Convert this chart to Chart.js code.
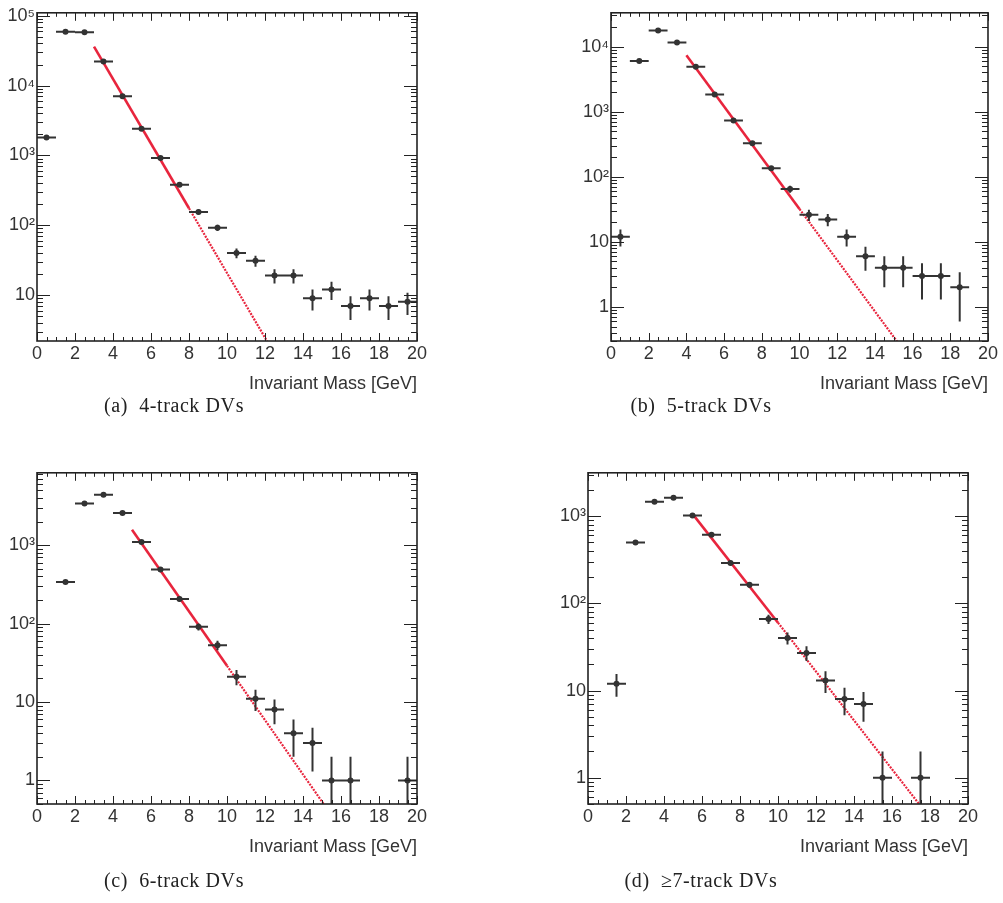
<!DOCTYPE html>
<html>
<head>
<meta charset="utf-8">
<script src="https://cdn.jsdelivr.net/npm/chart.js@4.4.1/dist/chart.umd.min.js"></script>
<style>
  body { margin: 0; background: #fff; width: 1003px; height: 903px; position: relative; overflow: hidden; }
  canvas { position: absolute; }
  .cap { position: absolute; width: 400px; text-align: center; font-family: "Liberation Serif", serif; font-size: 20px; letter-spacing: 0.6px; color: #222; line-height: 24px; }
</style>
</head>
<body>
<canvas id="chartA" width="500" height="400" style="left:0px;top:0px"></canvas>
<canvas id="chartB" width="500" height="400" style="left:500px;top:0px"></canvas>
<canvas id="chartC" width="500" height="420" style="left:0px;top:460px"></canvas>
<canvas id="chartD" width="500" height="420" style="left:500px;top:460px"></canvas>
<div class="cap" style="left:-26px;top:393px">(a)&nbsp;&nbsp;4-track DVs</div>
<div class="cap" style="left:501px;top:393px">(b)&nbsp;&nbsp;5-track DVs</div>
<div class="cap" style="left:-26px;top:868px">(c)&nbsp;&nbsp;6-track DVs</div>
<div class="cap" style="left:501px;top:868px">(d)&nbsp;&nbsp;&ge;7-track DVs</div>
<script>
// bin centres, 1 GeV bins
const massBins = [0.5, 1.5, 2.5, 3.5, 4.5, 5.5, 6.5, 7.5, 8.5, 9.5, 10.5, 11.5, 12.5, 13.5, 14.5, 15.5, 16.5, 17.5, 18.5, 19.5];

// 4-track
const countsA = [1800, 59000, 58000, 22000, 7000, 2400, 920, 380, 155, 92, 40, 31, 19, 19, 9, 12, 7, 9, 7, 8];
const errorsA = [42, 243, 241, 148, 84, 49, 30, 19.5, 12.4, 9.6, 6.3, 5.6, 4.4, 4.4, 3, 3.5, 2.6, 3, 2.6, 2.8];
const fitXA = [3, 8, 12.5];
const fitYA = [36000, 175, 1.44];

// 5-track
const countsB = [12, 6000, 17700, 11500, 4900, 1840, 730, 326, 135, 65, 26, 22, 12, 6, 4, 4, 3, 3, 2, null];
const errorsB = [3.5, 77, 133, 107, 70, 43, 27, 18, 11.6, 8, 5.1, 4.7, 3.5, 2.4, 2, 2, 1.7, 1.7, 1.4, null];
const fitXB = [4, 10, 15.5];
const fitYB = [7360, 32, 0.22];

// 6-track
const countsC = [null, 340, 3400, 4400, 2580, 1100, 490, 206, 91, 53, 21, 11, 8, 4, 3, 1, 1, null, null, 1];
const errorsC = [null, 18, 58, 66, 51, 33, 22, 14, 9.5, 7.3, 4.6, 3.3, 2.8, 2, 1.7, 1, 1, null, null, 1];
const fitXC = [5, 10, 15.5];
const fitYC = [1580, 29, 0.36];

// >=7-track
const countsD = [null, 12, 500, 1460, 1620, 1020, 612, 291, 163, 66, 40, 27, 13, 8, 7, 1, null, 1, null, null];
const errorsD = [null, 3.5, 22, 38, 40, 32, 25, 17, 12.8, 8.1, 6.3, 5.2, 3.6, 2.8, 2.6, 1, null, 1, null, null];
const fitXD = [5.5, 10, 18];
const fitYD = [1060, 60, 0.345];

// y axis decades
const yTicksA = [10, 100, 1000, 10000, 100000];
const yLabelsA = ['10', '10²', '10³', '10⁴', '10⁵'];
const yTicksB = [1, 10, 100, 1000, 10000];
const yLabelsB = ['1', '10', '10²', '10³', '10⁴'];
const yTicksCD = [1, 10, 100, 1000];
const yLabelsCD = ['1', '10', '10²', '10³'];

const textColor = '#333';
const fitColor = '#e8253d';

// ROOT-like frame, inside ticks and error bars
const rootFrame = {
  id: 'rootFrame',
  beforeDatasetDraw(chart, args) {
    if (args.index !== 0) return;
    const { ctx, chartArea: a, scales: { x, y } } = chart;
    ctx.save();
    ctx.beginPath();
    ctx.rect(a.left, a.top, a.width, a.height);
    ctx.clip();
    ctx.strokeStyle = '#333';
    ctx.lineWidth = 2;
    ctx.beginPath();
    chart.data.datasets[0].data.forEach(p => {
      const py = y.getPixelForValue(p.y);
      ctx.moveTo(x.getPixelForValue(p.x - 0.5), py);
      ctx.lineTo(x.getPixelForValue(p.x + 0.5), py);
      const px = x.getPixelForValue(p.x);
      const lo = p.y - p.err;
      ctx.moveTo(px, lo > 0 ? y.getPixelForValue(lo) : a.bottom);
      ctx.lineTo(px, y.getPixelForValue(p.y + p.err));
    });
    ctx.stroke();
    ctx.restore();
  },
  afterDraw(chart) {
    const { ctx, chartArea: a, scales: { x, y } } = chart;
    ctx.save();
    ctx.strokeStyle = '#222';
    ctx.lineWidth = 1;
    ctx.beginPath();
    for (let v = 0; v <= 20; v += 0.5) {
      const px = Math.round(x.getPixelForValue(v)) + 0.5;
      const len = v % 2 === 0 ? 8 : 4;
      ctx.moveTo(px, a.bottom); ctx.lineTo(px, a.bottom - len);
      ctx.moveTo(px, a.top); ctx.lineTo(px, a.top + len);
    }
    const lo = Math.floor(Math.log10(y.min));
    const hi = Math.ceil(Math.log10(y.max));
    for (let e = lo; e <= hi; e++) {
      for (let m = 1; m < 10; m++) {
        const v = m * Math.pow(10, e);
        if (v < y.min || v > y.max) continue;
        const py = Math.round(y.getPixelForValue(v)) + 0.5;
        const len = m === 1 ? 13 : 6;
        ctx.moveTo(a.left, py); ctx.lineTo(a.left + len, py);
        ctx.moveTo(a.right, py); ctx.lineTo(a.right - len, py);
      }
    }
    ctx.stroke();
    ctx.lineWidth = 1.6;
    ctx.strokeRect(a.left, a.top, a.width, a.height);
    ctx.restore();
  }
};

function makePanel(id, counts, errors, fitX, fitY, yMin, yMax, yTicks, yLabels, pad) {
  const points = [];
  massBins.forEach((m, i) => {
    if (counts[i] !== null) points.push({ x: m, y: counts[i], err: errors[i] });
  });
  const solid = [{ x: fitX[0], y: fitY[0] }, { x: fitX[1], y: fitY[1] }];
  const dotted = [{ x: fitX[1], y: fitY[1] }, { x: fitX[2], y: fitY[2] }];

  return new Chart(document.getElementById(id), {
    type: 'scatter',
    data: {
      datasets: [
        { data: points, order: 0, pointRadius: 3, pointBackgroundColor: '#333', pointBorderWidth: 0, showLine: false },
        { data: solid, order: 1, showLine: true, pointRadius: 0, borderColor: fitColor, borderWidth: 2.6, clip: 0 },
        { data: dotted, order: 2, showLine: true, pointRadius: 0, borderColor: fitColor, borderWidth: 2.2, borderDash: [2, 1.2], clip: 0 }
      ]
    },
    options: {
      responsive: false,
      animation: false,
      layout: { padding: pad },
      plugins: { legend: { display: false }, tooltip: { enabled: false } },
      scales: {
        x: {
          type: 'linear',
          min: 0,
          max: 20,
          grid: { display: false, drawTicks: false },
          border: { display: false },
          ticks: { stepSize: 2, padding: 2, color: textColor, font: { family: 'Liberation Sans', size: 18 } },
          title: {
            display: true,
            text: 'Invariant Mass [GeV]',
            align: 'end',
            padding: 0,
            color: textColor,
            font: { family: 'Liberation Sans', size: 18 }
          },
          afterFit: s => { s.height = 54; }
        },
        y: {
          type: 'logarithmic',
          min: yMin,
          max: yMax,
          grid: { display: false, drawTicks: false },
          border: { display: false },
          afterBuildTicks: s => { s.ticks = yTicks.map(v => ({ value: v })); },
          ticks: {
            padding: 2,
            color: textColor,
            font: { family: 'Liberation Sans', size: 18 },
            callback: v => yLabels[yTicks.indexOf(v)]
          },
          afterFit: s => { s.width = 37; }
        }
      }
    },
    plugins: [rootFrame]
  });
}

makePanel('chartA', countsA, errorsA, fitXA, fitYA, 2.2, 110000, yTicksA, yLabelsA, { left: 0, right: 83, top: 10, bottom: 5 });
makePanel('chartB', countsB, errorsB, fitXB, fitYB, 0.3, 33000, yTicksB, yLabelsB, { left: 74, right: 9, top: 10, bottom: 5 });
makePanel('chartC', countsC, errorsC, fitXC, fitYC, 0.5, 8400, yTicksCD, yLabelsCD, { left: 0, right: 83, top: 12, bottom: 22 });
makePanel('chartD', countsD, errorsD, fitXD, fitYD, 0.5, 3140, yTicksCD, yLabelsCD, { left: 51, right: 32, top: 12, bottom: 22 });
</script>
</body>
</html>
